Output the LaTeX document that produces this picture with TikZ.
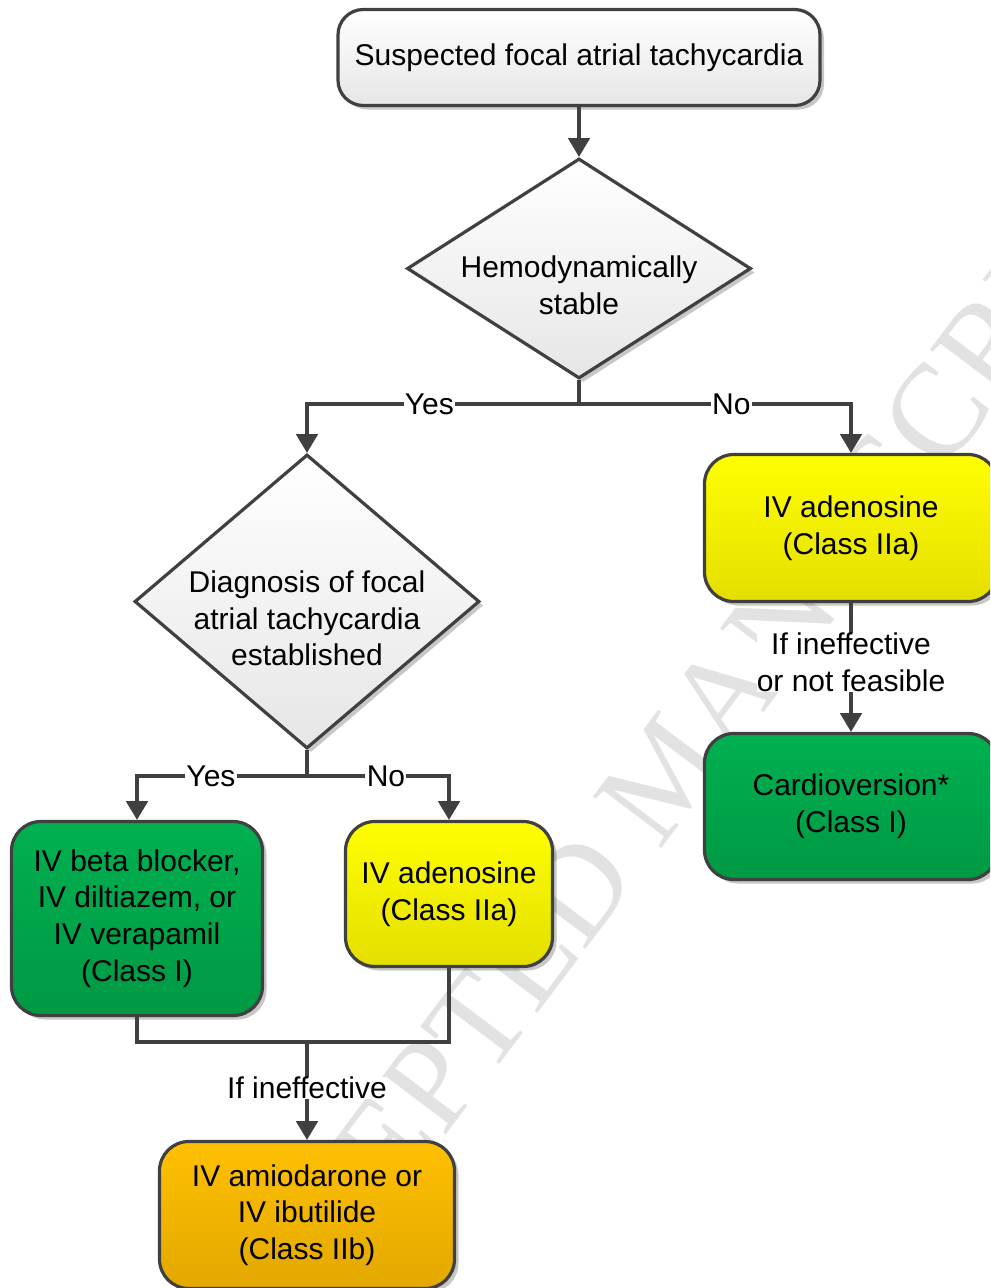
\documentclass[tikz,border=0pt]{standalone}
\usepackage{fontspec}
\setmainfont{Liberation Sans}
\newfontfamily\wmfont{Liberation Serif}
\usetikzlibrary{arrows.meta,shapes.geometric,shadows}
\newlength\upx \setlength\upx{0.75pt}
\definecolor{edgec}{HTML}{404040}
\definecolor{grayTop}{HTML}{FFFFFF}
\definecolor{grayBot}{HTML}{E6E6E6}
\definecolor{greenTop}{HTML}{00B050}
\definecolor{greenBot}{HTML}{009944}
\definecolor{yelTop}{HTML}{FFFF00}
\definecolor{yelBot}{HTML}{E4DE00}
\definecolor{orTop}{HTML}{FFC000}
\definecolor{orBot}{HTML}{E3A800}
\definecolor{wmgray}{HTML}{E2E2E2}
\tikzset{
  txt/.style={font=\fontsize{22.5}{27.5}\selectfont, align=center, text=black},
  base/.style={txt, draw=edgec, line width=2.4pt, inner sep=0pt,
    drop shadow={shadow xshift=3pt, shadow yshift=-3pt, fill=black, opacity=0.22}},
  startbox/.style={base, rounded corners=19pt, top color=grayTop, bottom color=grayBot},
  decision/.style={base, diamond, top color=grayTop, bottom color=grayBot},
  greenbox/.style={base, rounded corners=22pt, top color=greenTop, bottom color=greenBot},
  yelbox/.style={base, rounded corners=22pt, top color=yelTop, bottom color=yelBot},
  orbox/.style={base, rounded corners=22pt, top color=orTop, bottom color=orBot},
  conn/.style={draw=edgec, line width=2.4pt},
  arr/.style={conn, -{Triangle[length=14pt,width=16pt]}},
  lbl/.style={txt, fill=white, inner sep=1pt},
}
\begin{document}
\begin{tikzpicture}[x=0.75pt,y=-0.75pt]
\useasboundingbox (0,0) rectangle (990,1288);
\clip (0,0) rectangle (990,1288);
\fill[white] (0,0) rectangle (990,1288);
% watermark
\node[rotate=53, text=wmgray, font=\wmfont\fontsize{98}{98}\selectfont, inner sep=0pt] (wm) at (666,772) {ACCEPTED MANUSCRIPT};

% nodes
\node[startbox, minimum width=482\upx, minimum height=96\upx] (start) at (579,57.5) {Suspected focal atrial tachycardia};
\node[decision, minimum width=344\upx, minimum height=220\upx,
  label={[txt, yshift=-16.5\upx]center:{Hemodynamically\\stable}}] (d1) at (579,268.5) {};
\node[decision, minimum width=345\upx, minimum height=294\upx,
  label={[txt, yshift=-17\upx]center:{Diagnosis of focal\\atrial tachycardia\\established}}] (d2) at (307,601.5) {};
\node[yelbox, minimum width=293\upx, minimum height=147\upx] (adR) at (851,528) {IV adenosine\\(Class IIa)};
\node[greenbox, minimum width=293\upx, minimum height=146\upx] (cardio) at (851,806.5) {Cardioversion*\\(Class I)};
\node[greenbox, minimum width=251\upx, minimum height=194\upx] (beta) at (137,918.5) {IV beta blocker,\\IV diltiazem, or\\IV verapamil\\(Class I)};
\node[yelbox, minimum width=207\upx, minimum height=145\upx] (adM) at (449,894) {IV adenosine\\(Class IIa)};
\node[orbox, minimum width=295\upx, minimum height=147\upx] (amio) at (307,1215) {IV amiodarone or\\IV ibutilide\\(Class IIb)};

% junctions
\coordinate (j1) at (579,404);
\coordinate (j2) at (307,776);
\coordinate (j3) at (307,1042);

% connectors
\draw[arr] (start.south) -- (d1.north);
\draw[conn] (d1.south) -- (j1);
\draw[arr] (j1) -- node[lbl, pos=0.55]{Yes} (j1 -| d2.north) -- (d2.north);
\draw[arr] (j1) -- node[lbl, pos=0.56]{No} (j1 -| adR.north) -- (adR.north);
\draw[arr] (adR.south) -- node[lbl, inner sep=0pt, yshift=5\upx]{If ineffective\\or not feasible} (cardio.north);
\draw[conn] (d2.south) -- (j2);
\draw[arr] (j2) -- node[lbl, pos=0.565]{Yes} (j2 -| beta.north) -- (beta.north);
\draw[arr] (j2) -- node[lbl, pos=0.556]{No} (j2 -| adM.north) -- (adM.north);
\draw[conn] (beta.south) |- (j3);
\draw[conn] (adM.south) |- (j3);
\draw[arr] (j3) -- node[lbl, inner sep=0pt, yshift=3\upx]{If ineffective} (amio.north);
\end{tikzpicture}
\end{document}
